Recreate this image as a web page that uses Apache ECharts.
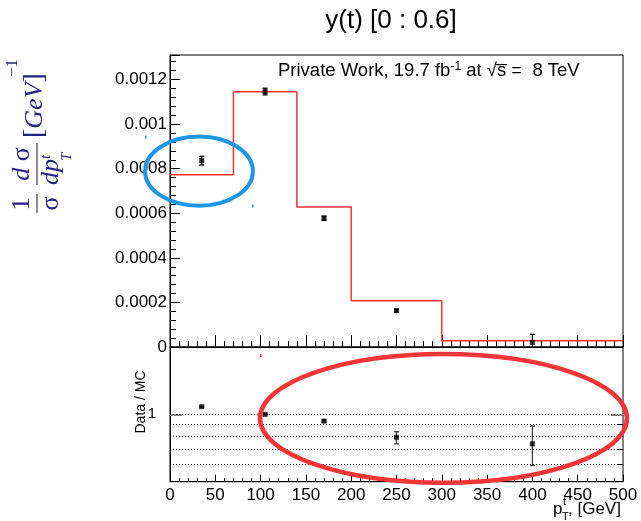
<!DOCTYPE html>
<html><head><meta charset="utf-8">
<script src="https://cdn.jsdelivr.net/npm/echarts@6/dist/echarts.min.js"></script>
<style>html,body{margin:0;padding:0;background:#fff}#c{width:641px;height:521px}</style>
</head><body><div id="c"></div>
<script>
// ---- data ----
const binEdges = [0, 70, 140, 200, 300, 500];
const mcValues = [0.000773, 0.001145, 0.000628, 0.000208, 0.000028];
const binCenters = [35, 105, 170, 250, 400];
const dataValues = [0.000836, 0.001146, 0.000578, 0.000163, 0.0000207];
const dataErrLow = [0.0000195, 0.000015, 0.000009, 0.000006, 0.000036];
const dataErrHigh = [0.0000195, 0.000015, 0.000009, 0.000006, 0.000036];
const ratioValues = [1.082, 1.0, 0.933, 0.790, 0.738];
const ratioLow = [1.076, 0.994, 0.922, 0.738, 0.59];
const ratioHigh = [1.088, 1.006, 0.944, 0.836, 0.887];
const ratioRefLines = [1, 0.9, 0.8, 0.7, 0.6];
const ratioLabelTicks = [1];
const ratioMinorTicks = [0.9, 0.8, 0.7, 0.6];
// annotation ellipses, bounding boxes in data units [x0, x1, yTop, yBottom]
const blueEllipseBox = [-27.5, 91.5, 0.000944, 0.000634];
const redEllipseBox = [99.3, 504.4, 1.86, 0.495];

const SANS = 'Liberation Sans';
const SERIF = 'Liberation Serif';
const NAVY = '#222282';

const stepData = binEdges.slice(0, -1).map((e, i) => [e, mcValues[i]]);
stepData.push([binEdges[binEdges.length - 1], mcValues[mcValues.length - 1]]);
const pointData = binCenters.map((x, i) => [x, dataValues[i]]);
const errData = binCenters.map((x, i) => [x, dataValues[i] - dataErrLow[i], dataValues[i] + dataErrHigh[i]]);
const ratioData = binCenters.map((x, i) => [x, ratioValues[i]]);
const ratioErrData = binCenters.map((x, i) => [x, ratioLow[i], ratioHigh[i]]);

function errRender(capHalf, color, width) {
  return function (params, api) {
    const x = api.value(0), lo = api.value(1), hi = api.value(2);
    const a = api.coord([x, lo]), b = api.coord([x, hi]);
    const st = { stroke: color, lineWidth: width };
    const ch = [{ type: 'line', shape: { x1: a[0], y1: a[1], x2: b[0], y2: b[1] }, style: st }];
    if (capHalf > 0) {
      ch.push({ type: 'line', shape: { x1: a[0] - capHalf, y1: a[1], x2: a[0] + capHalf, y2: a[1] }, style: st });
      ch.push({ type: 'line', shape: { x1: b[0] - capHalf, y1: b[1], x2: b[0] + capHalf, y2: b[1] }, style: st });
    }
    return { type: 'group', children: ch };
  };
}

const chart = echarts.init(document.getElementById('c'), null, { renderer: 'canvas' });
const axisLineBlack = { show: true, lineStyle: { color: '#000', width: 1 } };

const option = {
  animation: false,
  backgroundColor: '#fff',
  grid: [
    { left: 170, top: 55, width: 453, height: 292, show: true, borderColor: '#000', borderWidth: 1, backgroundColor: 'transparent' },
    { left: 170, top: 347, width: 453, height: 134.7, show: true, borderColor: '#000', borderWidth: 1, backgroundColor: 'transparent' }
  ],
  xAxis: [
    { type: 'value', gridIndex: 0, min: 0, max: 500, interval: 50,
      axisLine: axisLineBlack, axisLabel: { show: false },
      axisTick: { show: true, inside: true, length: 12, lineStyle: { color: '#000' } },
      minorTick: { show: true, splitNumber: 5, length: 6, lineStyle: { color: '#000' } },
      splitLine: { show: false } },
    { type: 'value', gridIndex: 1, min: 0, max: 500, interval: 50,
      axisLine: axisLineBlack,
      axisLabel: { show: true, color: '#000', fontFamily: SANS, fontSize: 17, margin: 5 },
      axisTick: { show: true, inside: true, length: 7, lineStyle: { color: '#000' } },
      minorTick: { show: true, splitNumber: 5, length: 3.5, lineStyle: { color: '#000' } },
      splitLine: { show: false } }
  ],
  yAxis: [
    { type: 'value', gridIndex: 0, min: 0, max: 0.00131, interval: 0.0002,
      axisLine: axisLineBlack,
      axisLabel: { show: true, color: '#000', fontFamily: SANS, fontSize: 17, margin: 3, showMaxLabel: false,
        formatter: v => v === 0 ? '0' : String(+v.toPrecision(3)) },
      axisTick: { show: true, inside: true, length: 10, lineStyle: { color: '#000' } },
      minorTick: { show: true, splitNumber: 5, length: 6, lineStyle: { color: '#000' } },
      splitLine: { show: false } },
    { type: 'log', gridIndex: 1, min: 0.5, max: 2, logBase: 10,
      axisLine: axisLineBlack,
      axisLabel: { show: true, customValues: ratioLabelTicks, color: '#000', fontFamily: SANS, fontSize: 15, margin: 14 },
      axisTick: { show: true, customValues: ratioLabelTicks, inside: true, length: 12, lineStyle: { color: '#808080', width: 2 } },
      splitLine: { show: false } },
    { type: 'log', gridIndex: 1, min: 0.5, max: 2, logBase: 10,
      axisLine: { show: false }, axisLabel: { show: false },
      axisTick: { show: true, customValues: ratioMinorTicks, inside: true, length: 5, lineStyle: { color: '#000' } },
      splitLine: { show: false } },
    { type: 'log', gridIndex: 1, min: 0.5, max: 2, logBase: 10, position: 'right',
      axisLine: { show: false }, axisLabel: { show: false },
      axisTick: { show: true, customValues: ratioLabelTicks, inside: true, length: 12, lineStyle: { color: '#808080', width: 2 } },
      splitLine: { show: false } },
    { type: 'log', gridIndex: 1, min: 0.5, max: 2, logBase: 10, position: 'right',
      axisLine: { show: false }, axisLabel: { show: false },
      axisTick: { show: true, customValues: ratioMinorTicks, inside: true, length: 5, lineStyle: { color: '#000' } },
      splitLine: { show: false } }
  ],
  series: [
    { type: 'line', xAxisIndex: 0, yAxisIndex: 0, data: stepData, step: 'end', symbol: 'none',
      lineStyle: { color: '#ff3030', width: 1.5 }, clip: true, z: 3 },
    { type: 'custom', xAxisIndex: 0, yAxisIndex: 0, data: errData, renderItem: errRender(2.5, '#000', 1.3),
      encode: { x: 0, y: [1, 2] }, clip: true, z: 4 },
    { type: 'scatter', xAxisIndex: 0, yAxisIndex: 0, data: pointData, symbol: 'rect', symbolSize: 5,
      itemStyle: { color: '#000' }, z: 5 },
    { type: 'custom', xAxisIndex: 1, yAxisIndex: 1, data: ratioErrData, renderItem: errRender(2.5, '#444', 1.3),
      encode: { x: 0, y: [1, 2] }, clip: true, z: 4 },
    { type: 'scatter', xAxisIndex: 1, yAxisIndex: 1, data: ratioData, symbol: 'rect', symbolSize: 5,
      itemStyle: { color: '#000' }, z: 5,
      markLine: { silent: true, symbol: 'none', animation: false, label: { show: false },
        lineStyle: { type: [1, 2], color: '#000', width: 1 },
        data: ratioRefLines.map(v => ({ yAxis: v })) } }
  ]
};
chart.setOption(option);

function boxPix(box, gridIdx) {
  const p0 = chart.convertToPixel({ xAxisIndex: gridIdx, yAxisIndex: gridIdx === 0 ? 0 : 1 }, [box[0], box[2]]);
  const p1 = chart.convertToPixel({ xAxisIndex: gridIdx, yAxisIndex: gridIdx === 0 ? 0 : 1 }, [box[1], box[3]]);
  return { x0: p0[0], y0: p0[1], x1: p1[0], y1: p1[1] };
}
const bb = boxPix(blueEllipseBox, 0);
const rb = boxPix(redEllipseBox, 1);
const BLUE = '#1e96e8', RED = '#f53535';

const formula = {
  type: 'group', x: 37, y: 213, rotation: Math.PI / 2, silent: true,
  children: [
    { type: 'text', style: { x: 9, y: -2, text: '1', font: '26px ' + SERIF, fill: NAVY, align: 'center', verticalAlign: 'bottom' } },
    { type: 'line', shape: { x1: 0, y1: 0, x2: 19, y2: 0 }, style: { stroke: '#666', lineWidth: 1.5 } },
    { type: 'text', style: { x: 9.5, y: 1, text: 'σ', font: '26px ' + SERIF, fill: NAVY, align: 'center', verticalAlign: 'top' } },
    { type: 'text', style: { x: 49, y: -2, text: '{i|d}{u| σ}', fill: NAVY, align: 'center', verticalAlign: 'bottom',
        rich: { i: { font: 'italic 26px ' + SERIF, fill: NAVY }, u: { font: '26px ' + SERIF, fill: NAVY } } } },
    { type: 'line', shape: { x1: 28, y1: 0, x2: 70, y2: 0 }, style: { stroke: '#666', lineWidth: 1.5 } },
    { type: 'text', style: { x: 28, y: 1, text: 'dp', font: 'italic 26px ' + SERIF, fill: NAVY, align: 'left', verticalAlign: 'top' } },
    { type: 'text', style: { x: 54, y: 9, text: 't', font: 'italic 15px ' + SERIF, fill: NAVY, align: 'left', verticalAlign: 'middle' } },
    { type: 'text', style: { x: 52, y: 30, text: 'T', font: 'italic 15px ' + SERIF, fill: NAVY, align: 'left', verticalAlign: 'middle' } },
    { type: 'text', style: { x: 75, y: -2, text: '{b|[}{i|GeV}{b|]}', fill: NAVY, verticalAlign: 'middle', align: 'left',
        rich: { b: { font: '28px ' + SERIF, fill: NAVY }, i: { font: 'italic 26px ' + SERIF, fill: NAVY } } } },
    { type: 'text', style: { x: 136, y: -24, text: '−1', font: '17px ' + SERIF, fill: NAVY, align: 'left', verticalAlign: 'middle' } }
  ]
};

chart.setOption({
  graphic: [
    { type: 'text', silent: true, style: { x: 391, y: 21, text: 'y(t) [0 : 0.6]', font: '26px ' + SANS, fill: '#000', align: 'center', verticalAlign: 'middle' } },
    { type: 'text', silent: true, style: { x: 278, y: 71, text: 'Private Work, 19.7 fb{s|-1} at √s\u0305 =  8 TeV', font: '18.5px ' + SANS, fill: '#000', align: 'left', verticalAlign: 'middle',
        rich: { s: { font: '12px ' + SANS, fill: '#000', verticalAlign: 'top', padding: [0, 0, 8, 0] } } } },
    formula,
    { type: 'text', silent: true, x: 141, y: 402, rotation: Math.PI / 2, style: { x: 0, y: 0, text: 'Data / MC', font: '14px ' + SANS, fill: '#000', align: 'center', verticalAlign: 'middle' } },
    { type: 'text', silent: true, style: { x: 553, y: 509, text: 'p', font: '17px ' + SANS, fill: '#000', align: 'left', verticalAlign: 'middle' } },
    { type: 'text', silent: true, style: { x: 563, y: 502, text: 't', font: '11px ' + SANS, fill: '#000', align: 'left', verticalAlign: 'middle' } },
    { type: 'text', silent: true, style: { x: 562, y: 516.5, text: 'T', font: '11px ' + SANS, fill: '#000', align: 'left', verticalAlign: 'middle' } },
    { type: 'text', silent: true, style: { x: 568, y: 509, text: ', [GeV]', font: '17px ' + SANS, fill: '#000', align: 'left', verticalAlign: 'middle' } },
    { type: 'ellipse', silent: true, z: 100, shape: { cx: (bb.x0 + bb.x1) / 2, cy: (bb.y0 + bb.y1) / 2, rx: Math.abs(bb.x1 - bb.x0) / 2, ry: Math.abs(bb.y1 - bb.y0) / 2 },
      style: { fill: 'none', stroke: BLUE, lineWidth: 4 } },
    { type: 'ellipse', silent: true, z: 100, shape: { cx: (rb.x0 + rb.x1) / 2, cy: (rb.y0 + rb.y1) / 2, rx: Math.abs(rb.x1 - rb.x0) / 2, ry: Math.abs(rb.y1 - rb.y0) / 2 },
      style: { fill: 'none', stroke: RED, lineWidth: 4.5 } },
    { type: 'rect', silent: true, z: 100, shape: { x: bb.x0, y: bb.y0 - 1, width: 1.5, height: 3 }, style: { fill: BLUE } },
    { type: 'rect', silent: true, z: 100, shape: { x: bb.x1 - 1, y: bb.y1 - 1, width: 1.5, height: 3 }, style: { fill: BLUE } },
    { type: 'rect', silent: true, z: 100, shape: { x: rb.x0, y: rb.y0, width: 1.5, height: 3 }, style: { fill: RED } }
  ]
});
</script></body></html>
